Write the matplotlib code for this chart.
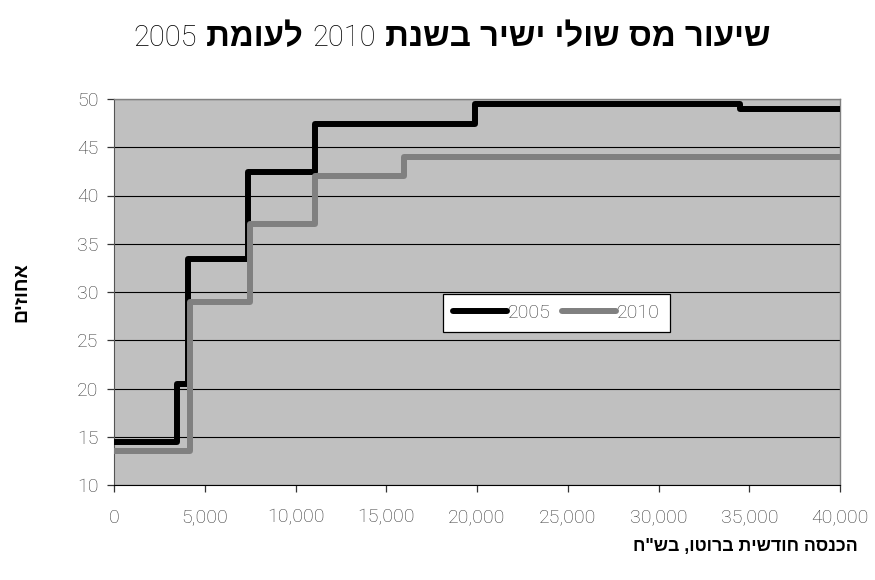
import matplotlib
matplotlib.use('Agg')
from matplotlib import pyplot as plt

# Marginal tax rate steps (monthly gross income in NIS -> percent)
income_2005 = [0, 3450, 4100, 7400, 11100, 19900, 34500, 40000]
rate_2005 = [14.5, 20.5, 33.4, 42.4, 47.4, 49.5, 49.0, 49.0]
income_2010 = [0, 4200, 7500, 11100, 16000, 40000]
rate_2010 = [13.5, 29.0, 37.0, 42.0, 44.0, 44.0]

x_ticks = [0, 5000, 10000, 15000, 20000, 25000, 30000, 35000, 40000]
y_ticks = [10, 15, 20, 25, 30, 35, 40, 45, 50]

# title runs, left to right as shown on the page
title_parts = [('2005', 'light'), ('לעומת', 'bold'), ('2010', 'light'),
               ('שיעור מס שולי ישיר בשנת', 'bold')]
y_title = 'אחוזים'
x_title = 'הכנסה חודשית ברוטו, בש"ח'

HEB = ['Liberation Sans', 'DejaVu Sans']
NUM = ['Roboto', 'DejaVu Sans']


def visual(s):
    # matplotlib lays glyphs out left to right, so flip Hebrew runs
    return s[::-1]


fig = plt.figure(figsize=(8.75, 5.8), dpi=100)
ax = fig.add_axes([114 / 875, 95 / 580, 726 / 875, 386 / 580])
ax.set_facecolor('#c0c0c0')

ax.step(income_2005, rate_2005, where='post', color='black', lw=4.3,
        label='2005', zorder=3)
ax.step(income_2010, rate_2010, where='post', color='#808080', lw=4.3,
        label='2010', zorder=4)

ax.set_xlim(0, 40000)
ax.set_ylim(10, 50)
ax.set_xticks(x_ticks)
ax.set_xticklabels([f'{v:,}' for v in x_ticks])
ax.set_yticks(y_ticks)
ax.grid(axis='y', color='black', lw=0.8)
ax.set_axisbelow(True)

for lab in ax.get_xticklabels() + ax.get_yticklabels():
    lab.set_family(NUM)
    lab.set_fontweight('light')
    lab.set_fontsize(14)
    lab.set_color('#383838')
ax.tick_params(axis='both', direction='out', length=5, width=0.9,
               color='#333333')
ax.tick_params(axis='x', pad=12)
ax.tick_params(axis='y', pad=6)

for side in ('top', 'right'):
    ax.spines[side].set_color('#808080')
    ax.spines[side].set_linewidth(1.0)
ax.spines['left'].set_color('#555555')
ax.spines['bottom'].set_color('black')

leg = ax.legend(loc='lower left', bbox_to_anchor=(0.453, 0.397), ncol=2,
                frameon=True, fancybox=False, framealpha=1,
                borderaxespad=0, handlelength=2.8, handletextpad=0.05,
                columnspacing=0.55, borderpad=0.5,
                prop={'family': NUM, 'weight': 'light', 'size': 14})
leg.get_frame().set_edgecolor('black')
leg.get_frame().set_linewidth(0.9)
for t in leg.get_texts():
    t.set_color('#383838')
for h in leg.get_lines():
    h.set_solid_capstyle('round')

fig.text(22 / 875, 1 - 292 / 580, visual(y_title), rotation=90,
         ha='center', va='center', family=HEB, fontweight='bold',
         fontsize=14)
fig.text(858 / 875, 1 - 546 / 580, visual(x_title), ha='right',
         va='center', family=HEB, fontweight='bold', fontsize=12.8)

# title built from runs of bold Hebrew and light digits
renderer = fig.canvas.get_renderer()
pieces = []
last = len(title_parts) - 1
for i, (text, weight) in enumerate(title_parts):
    if weight == 'bold':
        s = ' ' + visual(text) + (' ' if i < last else '')
        t = fig.text(0, 0, s, family=HEB, fontweight='bold',
                     fontsize=23.8, va='baseline')
    else:
        t = fig.text(0, 0, text, family=NUM, fontweight='light',
                     fontsize=21, va='baseline')
    pieces.append(t)
widths = [p.get_window_extent(renderer).width for p in pieces]
x0 = 452 - sum(widths) / 2
for p, w in zip(pieces, widths):
    p.set_position((x0 / 875, 1 - 46 / 580))
    x0 += w

fig.savefig('out.png', dpi=100)
